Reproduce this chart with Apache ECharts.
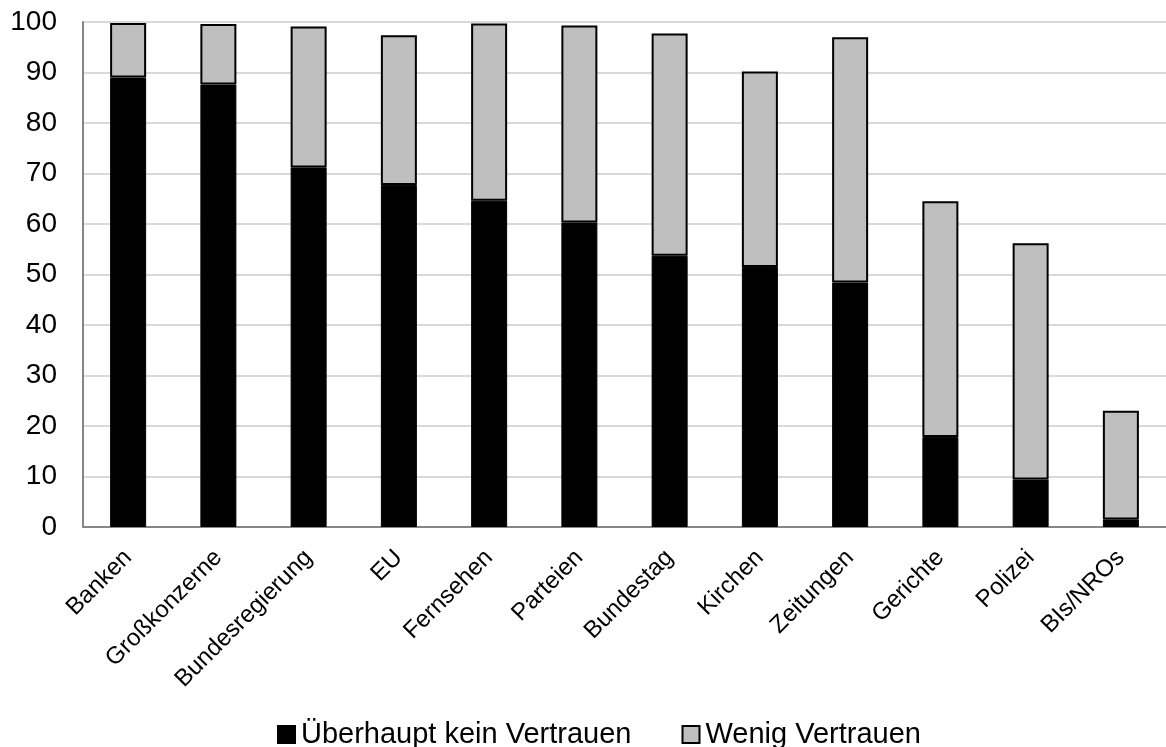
<!DOCTYPE html>
<html><head><meta charset="utf-8">
<script src="https://cdn.jsdelivr.net/npm/echarts@6/dist/echarts.min.js"></script>
<style>html,body{margin:0;padding:0;background:#fff}#c{width:1166px;height:747px}</style>
</head><body><div id="c"></div>
<script>
const categories = ['Banken','Großkonzerne','Bundesregierung','EU','Fernsehen','Parteien','Bundestag','Kirchen','Zeitungen','Gerichte','Polizei','BIs/NROs'];
const keinVertrauen = [89.0, 87.6, 71.2, 67.7, 64.6, 60.3, 53.7, 51.5, 48.4, 17.8, 9.4, 1.5];
const wenigVertrauen = [10.8, 12.0, 27.9, 29.7, 35.1, 39.0, 44.0, 38.7, 48.6, 46.7, 46.8, 21.5];
const seriesNames = ['Überhaupt kein Vertrauen', 'Wenig Vertrauen'];
const yTicks = {min: 0, max: 100, interval: 10};

const font = 'Liberation Sans, Arial, sans-serif';
const chart = echarts.init(document.getElementById('c'), null, {renderer: 'canvas'});
chart.setOption({
  animation: false,
  backgroundColor: '#fff',
  grid: {left: 83, right: 0, top: 22, bottom: 220, containLabel: false},
  legend: {
    left: 272, top: 715, itemWidth: 17, itemHeight: 17, itemGap: 50,
    icon: 'rect',
    textStyle: {fontFamily: font, fontSize: 29, color: '#000', padding: [0,0,0,1]},
    data: seriesNames
  },
  xAxis: {
    type: 'category', data: categories,
    axisLine: {lineStyle: {color: '#868686', width: 2}},
    axisTick: {show: false},
    axisLabel: {rotate: 45, interval: 0, fontFamily: font, fontSize: 24, color: '#000', margin: 27, padding: [0, 0, 0, 0]}
  },
  yAxis: {
    type: 'value', min: yTicks.min, max: yTicks.max, interval: yTicks.interval,
    axisLine: {show: true, lineStyle: {color: '#868686', width: 2}},
    axisTick: {show: false},
    splitLine: {lineStyle: {color: '#d9d9d9', width: 2}},
    axisLabel: {fontFamily: font, fontSize: 28, color: '#000', margin: 26}
  },
  series: [
    {name: seriesNames[0], type: 'bar', stack: 'a', data: keinVertrauen, barWidth: 36,
     itemStyle: {color: '#000', borderColor: '#000', borderWidth: 1}},
    {name: seriesNames[1], type: 'bar', stack: 'a', data: wenigVertrauen, barWidth: 36,
     itemStyle: {color: '#bfbfbf', borderColor: '#000', borderWidth: 2}}
  ]
});
</script></body></html>
